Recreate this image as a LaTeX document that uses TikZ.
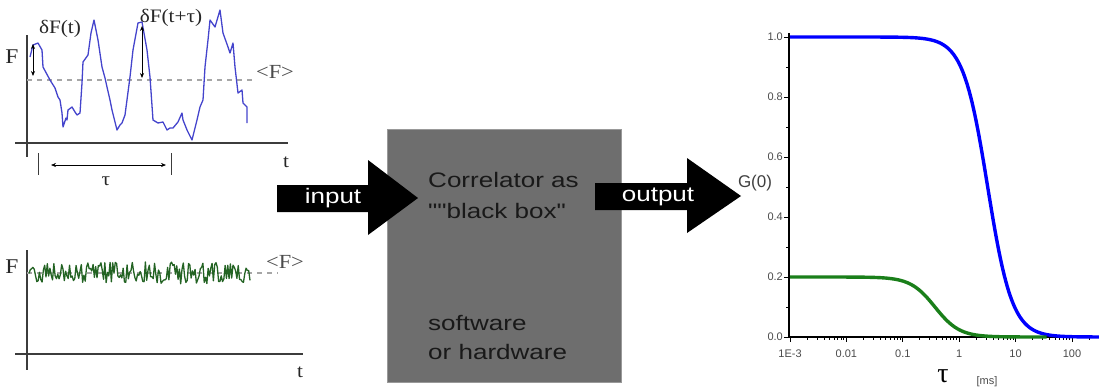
\documentclass[tikz,border=0pt]{standalone}
\usepackage{fontspec}
\setmainfont{Liberation Serif}
\newfontfamily\widesans[FakeStretch=1.24]{Liberation Sans}
\newfontfamily\plainsans{Liberation Sans}
\newfontfamily\wideserif[FakeStretch=1.12]{Liberation Serif}
\usetikzlibrary{arrows.meta}
\definecolor{boxgray}{HTML}{6E6E6E}
\definecolor{axisgray}{HTML}{3C3C3C}
\definecolor{tracblue}{HTML}{4444CC}
\definecolor{tracgreen}{HTML}{236323}
\definecolor{curvegreen}{HTML}{1A7F1A}
\definecolor{ticklab}{HTML}{4A4A4A}
\tikzset{
  axisline/.style={draw=axisgray, line width=1.8pt},
  meanline/.style={draw=gray!70, line width=1.4pt, dash pattern=on 5pt off 5pt},
  serlab/.style={font=\wideserif\fontsize{19}{20}\selectfont, text=black!85, inner sep=0pt},
  boxtext/.style={font=\widesans\fontsize{21}{24}\selectfont, text=black!90, anchor=base west, inner sep=0pt},
  arrowtext/.style={font=\widesans\fontsize{21}{24}\selectfont, text=white, inner sep=0pt},
  fatarrow/.style={fill=black},
  dblarrow/.style={draw=black, line width=0.8pt, {Stealth[length=5pt,width=4pt]}-{Stealth[length=5pt,width=4pt]}},
  ticklabel/.style={font=\plainsans\fontsize{11}{12}\selectfont, text=ticklab, inner sep=0pt},
}
\begin{document}
\begin{tikzpicture}[x=1pt,y=-1pt]
\useasboundingbox (0,0) rectangle (1099,389);
% ---------- top-left plot ----------
\draw[axisline] (27,35) -- (27,157);
\draw[axisline] (15,143) -- (288,143);
\node[serlab, font=\wideserif\fontsize{21}{22}\selectfont] (F1) at (12,57) {F};
\node[serlab] (t1) at (286,162) {t};
\draw[meanline] (27,80) -- (255,80);
\node[serlab, font=\wideserif\fontsize{20}{21}\selectfont, text=black!70] (mean1) at (275,72) {<F>};
\draw[tracblue, line width=1.3pt, line join=round]
 (30,57) -- (33,45) -- (38,43) -- (42,50) -- (43,67) -- (50,80) -- (55,88) -- (58,97) -- (60,100) -- (62,113)
 -- (63,127) -- (66,118) -- (67,120) -- (68,110) -- (72,107) -- (75,112) -- (77,115) -- (80,113) -- (82,83)
 -- (83,62) -- (88,55) -- (91,33) -- (94,20) -- (98,40) -- (102,67) -- (105,78) -- (107,87) -- (110,100) -- (112,110)
 -- (115,122) -- (117,130) -- (120,125) -- (122,123) -- (125,115) -- (130,77) -- (133,50) -- (138,23) -- (142,22)
 -- (147,50) -- (150,77) -- (153,120) -- (158,123) -- (163,122) -- (167,130) -- (170,128) -- (173,128) -- (178,122) -- (182,113)
 -- (183,120) -- (187,130) -- (192,140) -- (197,120) -- (200,107) -- (203,100) -- (205,67) -- (208,40)
 -- (210,20) -- (215,27) -- (220,10) -- (223,33) -- (228,47) -- (230,53) -- (233,43) -- (235,67) -- (238,93)
 -- (242,90) -- (243,103) -- (247,107) -- (247,123);
\node[serlab] (dF1) at (60,29) {δF(t)};
\node[serlab] (dF2) at (171,18) {δF(t+τ)};
\coordinate (a1) at (33,44);
\coordinate (a2) at (33,76);
\draw[dblarrow] (a1) -- (a2);
\coordinate (b1) at (142,26);
\coordinate (b2) at (142,78);
\draw[dblarrow] (b1) -- (b2);
\draw[draw=axisgray, line width=1pt] (38,153) -- (38,175);
\draw[draw=axisgray, line width=1pt] (171,153) -- (171,175);
\coordinate (c1) at (51,165);
\coordinate (c2) at (166,165);
\draw[dblarrow, line width=0.6pt] (c1) -- (c2);
\node[serlab] (tau1) at (106,181) {τ};
% ---------- bottom-left plot ----------
\draw[axisline] (27,250) -- (27,370);
\draw[axisline] (15,354) -- (303,354);
\node[serlab, font=\wideserif\fontsize{21}{22}\selectfont] (F2) at (12,267) {F};
\node[serlab] (t2) at (300,372) {t};
\draw[meanline] (27,273) -- (278,273);
\node[serlab, font=\wideserif\fontsize{20}{21}\selectfont, text=black!70] (mean2) at (285,262) {<F>};
\pgfmathsetseed{11}
\draw[tracgreen, line width=1.3pt, line join=round] plot[domain=29:250, samples=170] (\x, {273+11*rand});
% ---------- correlator box ----------
\node[draw=gray!80, fill=boxgray, line width=0.8pt, minimum width=234pt, minimum height=253pt, anchor=north west, inner sep=0pt] (box) at (387,129) {};
\node[boxtext] (l1) at (428,187) {Correlator as};
\node[boxtext] (l2) at (428,218) {""black box"};
\node[boxtext] (l3) at (428,330) {software};
\node[boxtext] (l4) at (428,359) {or hardware};
% ---------- arrows ----------
\fill[fatarrow] (277,185) -- (368,185) -- (368,160) -- (418,198) -- (368,235) -- (368,212) -- (277,212) -- cycle;
\node[arrowtext] (inp) at (333,198) {input};
\fill[fatarrow] (595,183) -- (687,183) -- (687,158) -- (741,196) -- (687,233) -- (687,210) -- (595,210) -- cycle;
\node[arrowtext] (outp) at (658,197) {output};
% ---------- right plot ----------
\draw[black, line width=1.4pt] (789,33) -- (789,337) -- (1099,337);
\foreach \v in {0,1,2,3,4,5,6,7,8,9,10} {
  \draw[black, line width=0.9pt] (789,{337-30*\v}) -- (786,{337-30*\v});
}
\foreach \v/\lab in {0/0.0,2/0.2,4/0.4,6/0.6,8/0.8,10/1.0} {
  \draw[black, line width=0.9pt] (789,{337-30*\v}) -- (784,{337-30*\v});
  \node[ticklabel, anchor=east] at (783,{337-30*\v}) {\lab};
}
\foreach \d in {0,1,2,3,4,5} {
  \draw[black, line width=0.9pt] ({790+56.4*\d},337) -- ({790+56.4*\d},342);
}
\foreach \d in {0,1,2,3,4,5} {
  \foreach \m in {2,...,9} {
    \pgfmathsetmacro\xx{790+56.4*(\d+log10(\m))}
    \ifdim \xx pt < 1099pt
      \draw[black, line width=0.7pt] (\xx,337) -- (\xx,340);
    \fi
  }
}
\foreach \d/\lab in {0/1E-3,1/0.01,2/0.1,3/1,4/10,5/100} {
  \node[ticklabel] at ({790+56.4*\d},354) {\lab};
}
\draw[blue, line width=3.4pt, line join=round] plot[domain=-3:2.48, samples=220]
  ({790+56.4*(\x+3)}, {337-300/(1+pow(10,2*\x-1.01))});
\draw[curvegreen, line width=3.4pt, line join=round] plot[domain=-3:1.55, samples=200]
  ({790+56.4*(\x+3)}, {337-60/(1+pow(10,2*\x+0.86))});
\node[font=\plainsans\fontsize{17}{18}\selectfont, text=black!75, inner sep=0pt] (G) at (755,183) {G(0)};
\node[font=\fontsize{28}{30}\selectfont, inner sep=0pt] (tau2) at (943,376) {τ};
\node[ticklabel] (ms) at (987,382) {[ms]};
\end{tikzpicture}
\end{document}
